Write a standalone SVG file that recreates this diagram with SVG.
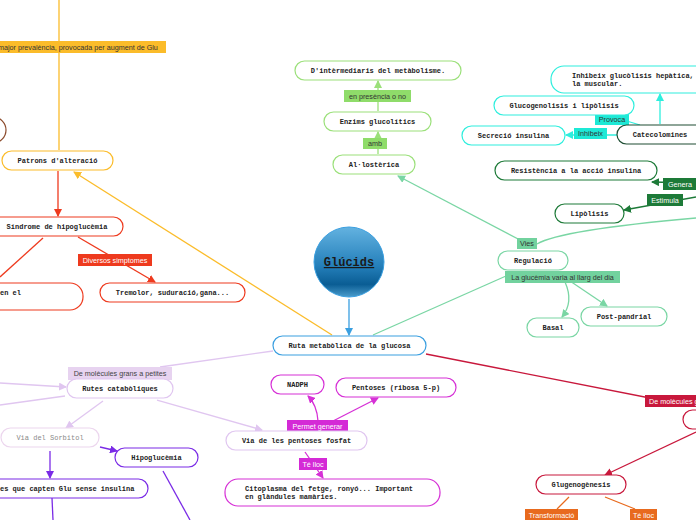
<svg xmlns="http://www.w3.org/2000/svg" width="696" height="520" viewBox="0 0 696 520">
<defs>
<linearGradient id="gc" x1="0" y1="0" x2="0" y2="1">
<stop offset="0" stop-color="#63b2e0"/>
<stop offset="0.55" stop-color="#2580bb"/>
<stop offset="0.82" stop-color="#0a5d94"/>
<stop offset="1" stop-color="#4a9ccc"/>
</linearGradient>
<marker id="aBlue" markerWidth="8" markerHeight="8" refX="7" refY="4" orient="auto" markerUnits="userSpaceOnUse"><path d="M0,0 L8,4 L0,8 z" fill="#3a9fe0"/></marker>
<marker id="aOr" markerWidth="8" markerHeight="8" refX="7" refY="4" orient="auto" markerUnits="userSpaceOnUse"><path d="M0,0 L8,4 L0,8 z" fill="#fbbc2a"/></marker>
<marker id="aRed" markerWidth="8" markerHeight="8" refX="7" refY="4" orient="auto" markerUnits="userSpaceOnUse"><path d="M0,0 L8,4 L0,8 z" fill="#ee3a1e"/></marker>
<marker id="aLg" markerWidth="8" markerHeight="8" refX="7" refY="4" orient="auto" markerUnits="userSpaceOnUse"><path d="M0,0 L8,4 L0,8 z" fill="#9be07a"/></marker>
<marker id="aTeal" markerWidth="8" markerHeight="8" refX="7" refY="4" orient="auto" markerUnits="userSpaceOnUse"><path d="M0,0 L8,4 L0,8 z" fill="#7ad6a4"/></marker>
<marker id="aCy" markerWidth="8" markerHeight="8" refX="7" refY="4" orient="auto" markerUnits="userSpaceOnUse"><path d="M0,0 L8,4 L0,8 z" fill="#2eeedd"/></marker>
<marker id="aDg" markerWidth="8" markerHeight="8" refX="7" refY="4" orient="auto" markerUnits="userSpaceOnUse"><path d="M0,0 L8,4 L0,8 z" fill="#1d7a38"/></marker>
<marker id="aLp" markerWidth="8" markerHeight="8" refX="7" refY="4" orient="auto" markerUnits="userSpaceOnUse"><path d="M0,0 L8,4 L0,8 z" fill="#e0c6f0"/></marker>
<marker id="aPu" markerWidth="8" markerHeight="8" refX="7" refY="4" orient="auto" markerUnits="userSpaceOnUse"><path d="M0,0 L8,4 L0,8 z" fill="#7a2be6"/></marker>
<marker id="aMg" markerWidth="8" markerHeight="8" refX="7" refY="4" orient="auto" markerUnits="userSpaceOnUse"><path d="M0,0 L8,4 L0,8 z" fill="#d630d6"/></marker>
<marker id="aCr" markerWidth="8" markerHeight="8" refX="7" refY="4" orient="auto" markerUnits="userSpaceOnUse"><path d="M0,0 L8,4 L0,8 z" fill="#c8183c"/></marker>
</defs>
<style>
.n{fill:#fff;stroke-width:1.2}
.t{font-family:"Liberation Mono",monospace;font-weight:bold;font-size:7px;fill:#222;text-anchor:middle}
.tl{font-family:"Liberation Mono",monospace;font-weight:bold;font-size:7px;fill:#222}
.l{font-family:"Liberation Sans",Arial,sans-serif;font-size:7.2px;text-anchor:middle}
.ls{font-family:"Liberation Sans",Arial,sans-serif;font-size:7.2px}
.c{fill:none;stroke-width:1.3}
</style>
<rect width="696" height="520" fill="#fff"/>
<g id="connectors">
<path class="c" d="M349,299 L349,335" stroke="#3a9fe0" marker-end="url(#aBlue)"/>
<path class="c" d="M332,335 L74,172" stroke="#fbbc2a" marker-end="url(#aOr)"/>
<path class="c" d="M59,0 L59,150" stroke="#fbbc2a"/>
<path class="c" d="M58,171 L58,216" stroke="#ee3a1e" marker-end="url(#aRed)"/>
<path class="c" d="M43,238 L0,277" stroke="#ee3a1e"/>
<path class="c" d="M78,237 L155,282" stroke="#ee3a1e" marker-end="url(#aRed)"/>
<path class="c" d="M378,111 L378,81" stroke="#9be07a" marker-end="url(#aLg)"/>
<path class="c" d="M378,154 L378,132" stroke="#9be07a" marker-end="url(#aLg)"/>
<path class="c" d="M522,241 L398,176" stroke="#7ad6a4" marker-end="url(#aTeal)"/>
<path class="c" d="M373,335 L506,276" stroke="#7ad6a4"/>
<path class="c" d="M565,282 Q574,302 562,317" stroke="#7ad6a4" marker-end="url(#aTeal)"/>
<path class="c" d="M570,281 L607,306" stroke="#7ad6a4" marker-end="url(#aTeal)"/>
<path class="c" d="M537,244 Q560,230 696,218" stroke="#7ad6a4"/>
<path class="c" d="M660,124 L660,94" stroke="#2eeedd" marker-end="url(#aCy)"/>
<path class="c" d="M617,135 L566,135" stroke="#2eeedd" marker-end="url(#aCy)"/>
<path class="c" d="M640,125 L610,116" stroke="#2eeedd"/>
<path class="c" d="M696,183 L652,182" stroke="#1d7a38" marker-end="url(#aDg)"/>
<path class="c" d="M696,197 L624,210" stroke="#1d7a38" marker-end="url(#aDg)"/>
<path class="c" d="M273,351 L160,367" stroke="#e0c6f0"/>
<path class="c" d="M0,383 L66,387" stroke="#e0c6f0" marker-end="url(#aLp)"/>
<path class="c" d="M0,405 L65,396" stroke="#e0c6f0"/>
<path class="c" d="M103,401 L66,428" stroke="#e0c6f0" marker-end="url(#aLp)"/>
<path class="c" d="M157,400 L262,430" stroke="#e0c6f0" marker-end="url(#aLp)"/>
<path class="c" d="M100,447 L117,451" stroke="#7a2be6" marker-end="url(#aPu)"/>
<path class="c" d="M50,451 L50,478" stroke="#7a2be6" marker-end="url(#aPu)"/>
<path class="c" d="M52,498 L53,520" stroke="#7a2be6"/>
<path class="c" d="M163,471 L190,520" stroke="#7a2be6"/>
<path class="c" d="M318,421 Q317,405 308,396" stroke="#d630d6" marker-end="url(#aMg)"/>
<path class="c" d="M333,421 L378,398" stroke="#d630d6" marker-end="url(#aMg)"/>
<path class="c" d="M305,452 L323,478" stroke="#d630d6" marker-end="url(#aMg)"/>
<path class="c" d="M426,354 L660,400" stroke="#c8183c"/>
<path class="c" d="M696,432 L605,475" stroke="#c8183c" marker-end="url(#aCr)"/>
<path class="c" d="M569,497 L557,509" stroke="#e86a1e"/>
<path class="c" d="M605,497 L635,509" stroke="#e86a1e"/>
</g>
<g id="labels">
<rect x="0" y="41" width="166" height="12" fill="#fbbc2a"/>
<text class="ls" x="-2" y="49.5" fill="#333">major prevalència, provocada per augment de Glu</text>
<rect x="78" y="254" width="74" height="12" fill="#ee3a1e"/>
<text class="l" x="115" y="262.5" fill="#fff">Diversos simptomes</text>
<rect x="344" y="90" width="67" height="12" fill="#8fdc6a"/>
<text class="l" x="377.5" y="98.5" fill="#333">en presència o no</text>
<rect x="363" y="138" width="24" height="11" fill="#8fdc6a"/>
<text class="l" x="375" y="146" fill="#333">amb</text>
<rect x="595" y="114" width="34" height="11" fill="#1de9d6"/>
<text class="l" x="612" y="122" fill="#333">Provoca</text>
<rect x="574" y="128" width="33" height="11" fill="#1de9d6"/>
<text class="l" x="590.5" y="136" fill="#333">Inhibeix</text>
<rect x="663" y="178" width="33" height="12" fill="#1d7a38"/>
<text class="l" x="680" y="186.5" fill="#fff">Genera</text>
<rect x="647" y="194" width="36" height="12" fill="#1d7a38"/>
<text class="l" x="665" y="202.5" fill="#fff">Estimula</text>
<rect x="517" y="238" width="20" height="11" fill="#72d29e"/>
<text class="l" x="527" y="246" fill="#333">Vies</text>
<rect x="505" y="271" width="115" height="12" fill="#72d29e"/>
<text class="l" x="562.5" y="279.5" fill="#333">La glucèmia varia al llarg del dia</text>
<rect x="68" y="367" width="104" height="13" fill="#e7d3f0"/>
<text class="l" x="120" y="376" fill="#444">De molècules grans a petites</text>
<rect x="287" y="420" width="61" height="12" fill="#d42ad6"/>
<text class="l" x="317.5" y="428.5" fill="#fff">Permet generar</text>
<rect x="299" y="458" width="28" height="12" fill="#d42ad6"/>
<text class="l" x="313" y="466.5" fill="#fff">Té lloc</text>
<rect x="645" y="395" width="55" height="12" fill="#c8183c"/>
<text class="ls" x="649" y="403.5" fill="#fff">De molècules g</text>
<rect x="525" y="509" width="53" height="12" fill="#e86a1e"/>
<text class="l" x="551.5" y="517.5" fill="#fff">Transformació</text>
<rect x="630" y="509" width="27" height="12" fill="#e86a1e"/>
<text class="l" x="643.5" y="517.5" fill="#fff">Té lloc</text>
</g>
<g id="glucids">
<circle cx="349" cy="262" r="35" fill="url(#gc)" stroke="#3a9fe0" stroke-width="1"/>
<text x="349" y="266" font-family="Liberation Mono,monospace" font-weight="bold" font-size="12" fill="#1a1a1a" text-anchor="middle" text-decoration="underline">Glúcids</text>
</g>
<g id="ruta"><rect class="n" x="273" y="336" width="153" height="19" rx="9.5" stroke="#3a9fe0"/><text class="t" x="349.5" y="348">Ruta metabòlica de la glucosa</text></g>
<g id="brown"><rect class="n" x="-100" y="117" width="106" height="26" rx="13" stroke="#8b4a2b"/></g>
<g id="patrons"><rect class="n" x="2" y="151" width="111" height="19" rx="9.5" stroke="#fbbc2a"/><text class="t" x="57.5" y="163">Patrons d'alteració</text></g>
<g id="sindrome"><rect class="n" x="-10" y="217" width="133" height="19" rx="9.5" stroke="#ee3a1e"/><text class="t" x="57" y="229">Síndrome de hipoglucèmia</text></g>
<g id="enel"><rect class="n" x="-60" y="283" width="143" height="27" rx="13" stroke="#ee3a1e"/><text class="tl" x="0" y="295">en el</text></g>
<g id="tremolor"><rect class="n" x="100" y="283" width="145" height="19" rx="9.5" stroke="#ee3a1e"/><text class="t" x="172.5" y="295">Tremolor, suduració,gana...</text></g>
<g id="intermediaris"><rect class="n" x="295" y="61" width="166" height="19" rx="9.5" stroke="#9be07a"/><text class="t" x="378" y="73">D'intèrmediaris del metàbolisme.</text></g>
<g id="enzims"><rect class="n" x="324" y="112" width="107" height="19" rx="9.5" stroke="#9be07a"/><text class="t" x="377.5" y="124">Enzims glucolítics</text></g>
<g id="allosterica"><rect class="n" x="333" y="155" width="82" height="19" rx="9.5" stroke="#9be07a"/><text class="t" x="374" y="167">Al·lostèrica</text></g>
<g id="inhibeixglu"><rect class="n" x="551" y="66" width="160" height="27" rx="13" stroke="#2eeedd"/><text class="tl" x="572" y="78">Inhibeix glucòlisis hepàtica,</text><text class="tl" x="572" y="86">la muscular.</text></g>
<g id="glucogenolisis"><rect class="n" x="494" y="96" width="140" height="19" rx="9.5" stroke="#2eeedd"/><text class="t" x="564" y="108">Glucogenolisis i lipòlisis</text></g>
<g id="secrecio"><rect class="n" x="462" y="126" width="103" height="19" rx="9.5" stroke="#2eeedd"/><text class="t" x="513.5" y="138">Secreció insulina</text></g>
<g id="catecolomines"><rect class="n" x="617" y="125" width="95" height="19" rx="9.5" stroke="#1e4d33"/><text class="t" x="660" y="137">Catecolomines</text></g>
<g id="resistencia"><rect class="n" x="495" y="161" width="162" height="19" rx="9.5" stroke="#1d7a38"/><text class="t" x="576" y="173">Resistència a la acció insulina</text></g>
<g id="lipolisis"><rect class="n" x="555" y="204" width="69" height="19" rx="9.5" stroke="#1d7a38"/><text class="t" x="589.5" y="216">Lipòlisis</text></g>
<g id="regulacio"><rect class="n" x="498" y="251" width="70" height="19" rx="9.5" stroke="#7ad6a4"/><text class="t" x="533" y="263">Regulació</text></g>
<g id="basal"><rect class="n" x="527" y="318" width="52" height="19" rx="9.5" stroke="#7ad6a4"/><text class="t" x="553" y="330">Basal</text></g>
<g id="postpandrial"><rect class="n" x="581" y="307" width="86" height="19" rx="9.5" stroke="#7ad6a4"/><text class="t" x="624" y="319">Post-pandrial</text></g>
<g id="rutes"><rect class="n" x="67" y="379" width="106" height="19" rx="9.5" stroke="#e0c6f0"/><text class="t" x="120" y="391">Rutes catabòliques</text></g>
<g id="sorbitol"><rect class="n" x="1" y="428" width="98" height="19" rx="9.5" stroke="#ecd6ee"/><text class="t" x="50" y="440" style="fill:#8a8a8a;font-weight:normal">Via del Sorbitol</text></g>
<g id="hipoglucemia"><rect class="n" x="115" y="448" width="83" height="19" rx="9.5" stroke="#7a2be6"/><text class="t" x="156.5" y="460">Hipoglucèmia</text></g>
<g id="capten"><rect class="n" x="-40" y="479" width="188" height="19" rx="9.5" stroke="#7a2be6"/><text class="tl" x="0" y="491">es que capten Glu sense insulina</text></g>
<g id="nadph"><rect class="n" x="271" y="375" width="53" height="19" rx="9.5" stroke="#d630d6"/><text class="t" x="297.5" y="387">NADPH</text></g>
<g id="pentoses"><rect class="n" x="336" y="378" width="120" height="19" rx="9.5" stroke="#d630d6"/><text class="t" x="396" y="390">Pentoses (ribosa 5-p)</text></g>
<g id="viapentoses"><rect class="n" x="226" y="431" width="141" height="19" rx="9.5" stroke="#e0c6f0"/><text class="t" x="296.5" y="443">Via de les pentoses fosfat</text></g>
<g id="citoplasma"><rect class="n" x="225" y="479" width="215" height="27" rx="13" stroke="#d630d6"/><text class="tl" x="245" y="491">Citoplasma del fetge, ronyó... Important</text><text class="tl" x="245" y="499">en glàndules mamàries.</text></g>
<g id="redright"><rect class="n" x="683" y="410" width="60" height="19" rx="9.5" stroke="#c8183c"/></g>
<g id="glugenogenesis"><rect class="n" x="536" y="475" width="90" height="19" rx="9.5" stroke="#c8183c"/><text class="t" x="581" y="487">Glugenogènesis</text></g>
</svg>
